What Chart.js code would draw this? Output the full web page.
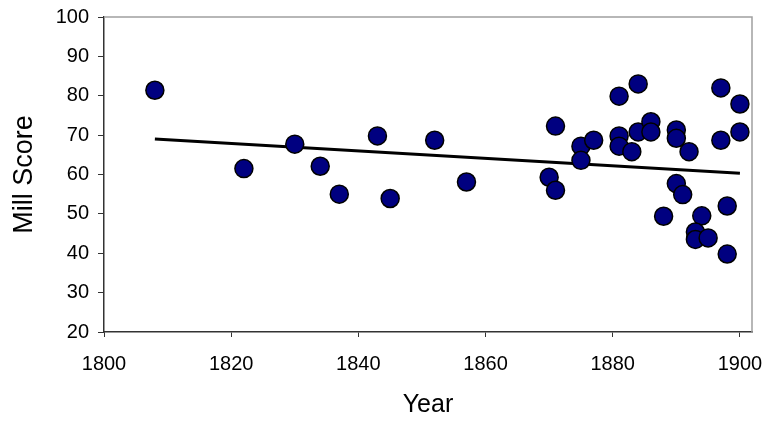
<!DOCTYPE html>
<html>
<head>
<meta charset="utf-8">
<script src="https://cdn.jsdelivr.net/npm/chart.js@4"></script>
<style>
  html, body { margin: 0; padding: 0; background: #fff; }
  #wrap { width: 769px; height: 422px; }
</style>
</head>
<body>
<div id="wrap"><canvas id="c" width="769" height="422"></canvas></div>
<script>
const years = [1808, 1822, 1830, 1834, 1837, 1843, 1845, 1852, 1857, 1871, 1870, 1871, 1875, 1875, 1877, 1881, 1881, 1881, 1883, 1884, 1884, 1886, 1886, 1888, 1890, 1890, 1890, 1891, 1892, 1894, 1893, 1893, 1895, 1897, 1897, 1898, 1898, 1900, 1900];
const millScores = [81.4, 61.5, 67.7, 62.1, 55.0, 69.8, 53.9, 68.7, 58.1, 72.3, 59.3, 56.0, 67.2, 63.6, 68.7, 79.9, 69.8, 67.2, 65.8, 83.0, 70.8, 73.4, 70.8, 49.4, 71.3, 69.2, 57.7, 54.9, 65.8, 49.5, 45.4, 43.5, 43.9, 82.0, 68.7, 52.0, 39.8, 77.9, 70.8];
const trendYears = [1808, 1900];
const trendScores = [69.0, 60.3];
const xTicks = [1800, 1820, 1840, 1860, 1880, 1900];
const yTicks = [20, 30, 40, 50, 60, 70, 80, 90, 100];

const FONT = "'Liberation Sans', Arial, sans-serif";

const borderPlugin = {
  id: 'plotBorder',
  afterDatasetsDraw(chart) {
    const {ctx, chartArea: a} = chart;
    ctx.save();
    ctx.strokeStyle = '#a0a0a0';
    ctx.lineWidth = 1.5;
    ctx.beginPath();
    ctx.moveTo(a.left, a.top);
    ctx.lineTo(a.right, a.top);
    ctx.lineTo(a.right, a.bottom);
    ctx.stroke();
    ctx.restore();
  }
};

new Chart(document.getElementById('c'), {
  type: 'scatter',
  data: {
    datasets: [
      {
        type: 'line',
        data: trendYears.map((x, i) => ({x, y: trendScores[i]})),
        borderColor: '#000',
        borderWidth: 3,
        pointRadius: 0,
        fill: false,
        order: 2
      },
      {
        data: years.map((x, i) => ({x, y: millScores[i]})),
        backgroundColor: '#000080',
        borderColor: '#000',
        borderWidth: 1.5,
        pointRadius: 9,
        pointHoverRadius: 9,
        order: 1
      }
    ]
  },
  plugins: [borderPlugin],
  options: {
    responsive: false,
    animation: false,
    layout: { padding: { left: 8, right: 17, top: 17, bottom: 2 } },
    plugins: { legend: { display: false }, tooltip: { enabled: false } },
    scales: {
      x: {
        type: 'linear',
        min: 1800,
        max: 1901.9,
        afterBuildTicks(scale) { scale.ticks = xTicks.map(v => ({value: v})); },
        afterFit(scale) { scale.height = 88; scale.paddingLeft = 0; scale.paddingRight = 0; },
        ticks: { color: '#000', font: { family: FONT, size: 20 }, padding: 15, maxRotation: 0,
                 callback: v => String(v) },
        grid: { drawOnChartArea: false, drawTicks: true, tickLength: 5, color: '#333', lineWidth: 1 },
        border: { color: '#333', width: 1.5 },
        title: { display: true, text: 'Year', color: '#000', font: { family: FONT, size: 25 }, padding: 0 }
      },
      y: {
        min: 20,
        max: 100,
        afterBuildTicks(scale) { scale.ticks = yTicks.map(v => ({value: v})); },
        afterFit(scale) { scale.width = 96; scale.paddingTop = 0; scale.paddingBottom = 0; },
        ticks: { color: '#000', font: { family: FONT, size: 20 }, padding: 9 },
        grid: { drawOnChartArea: false, drawTicks: true, tickLength: 6, color: '#333', lineWidth: 1 },
        border: { color: '#333', width: 1.5 },
        title: { display: true, text: 'Mill Score', color: '#000', font: { family: FONT, size: 27 }, padding: 0 }
      }
    }
  }
});
</script>
</body>
</html>
